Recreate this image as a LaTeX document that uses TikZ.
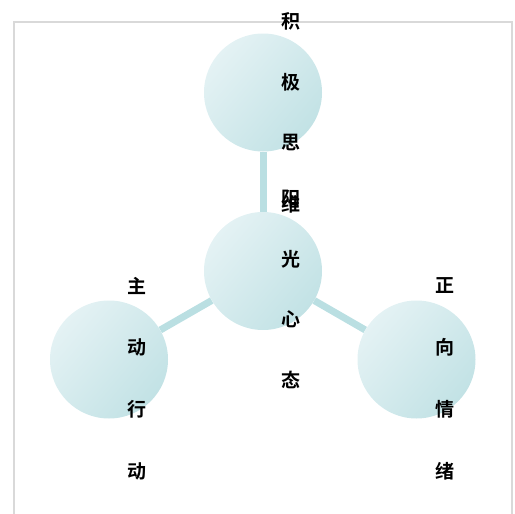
\documentclass[tikz,border=0pt]{standalone}
\usepackage{fontspec}
\usetikzlibrary{backgrounds}
\newfontfamily\cjk{Noto Sans CJK SC}[BoldFont={Noto Sans CJK SC Bold}]
\definecolor{frame}{HTML}{D9D9D9}
\definecolor{linkc}{HTML}{BADFE2}
\definecolor{ballA}{HTML}{E4F2F4}
\definecolor{ballB}{HTML}{C2E2E5}
\tikzset{
  ball/.style={circle, minimum size=118pt, inner sep=0pt, shading=axis, left color=ballA, right color=ballB, shading angle=50},
  link/.style={draw=linkc, line width=7pt},
  glyph/.style={font=\cjk\bfseries\fontsize{19}{19}\selectfont, inner sep=0pt, anchor=center}
}
\begin{document}
\begin{tikzpicture}[x=1pt,y=-1pt]
\useasboundingbox (0,0) rectangle (515,514);
\draw[frame, line width=1.5pt] (14,530) -- (14,22) -- (512,22) -- (512,530);
\node[ball] (top) at (263,92.5) {};
\node[ball] (mid) at (263,271) {};
\node[ball] (left) at (109,359.5) {};
\node[ball] (right) at (416.5,359.5) {};
\begin{scope}[on background layer]
\draw[link] (mid) -- (top);
\draw[link] (mid) -- (left);
\draw[link] (mid) -- (right);
\end{scope}
\foreach \c [count=\i from 0] in {积,极,思,维} \node[glyph] (t\i) at (291,21+61*\i) {\c};
\foreach \c [count=\i from 0] in {阳,光,心,态} \node[glyph] (m\i) at (291,199+60.3*\i) {\c};
\foreach \c [count=\i from 0] in {主,动,行,动} \node[glyph] (l\i) at (137,286+61.7*\i) {\c};
\foreach \c [count=\i from 0] in {正,向,情,绪} \node[glyph] (r\i) at (445,286+61.7*\i) {\c};
\end{tikzpicture}
\end{document}
